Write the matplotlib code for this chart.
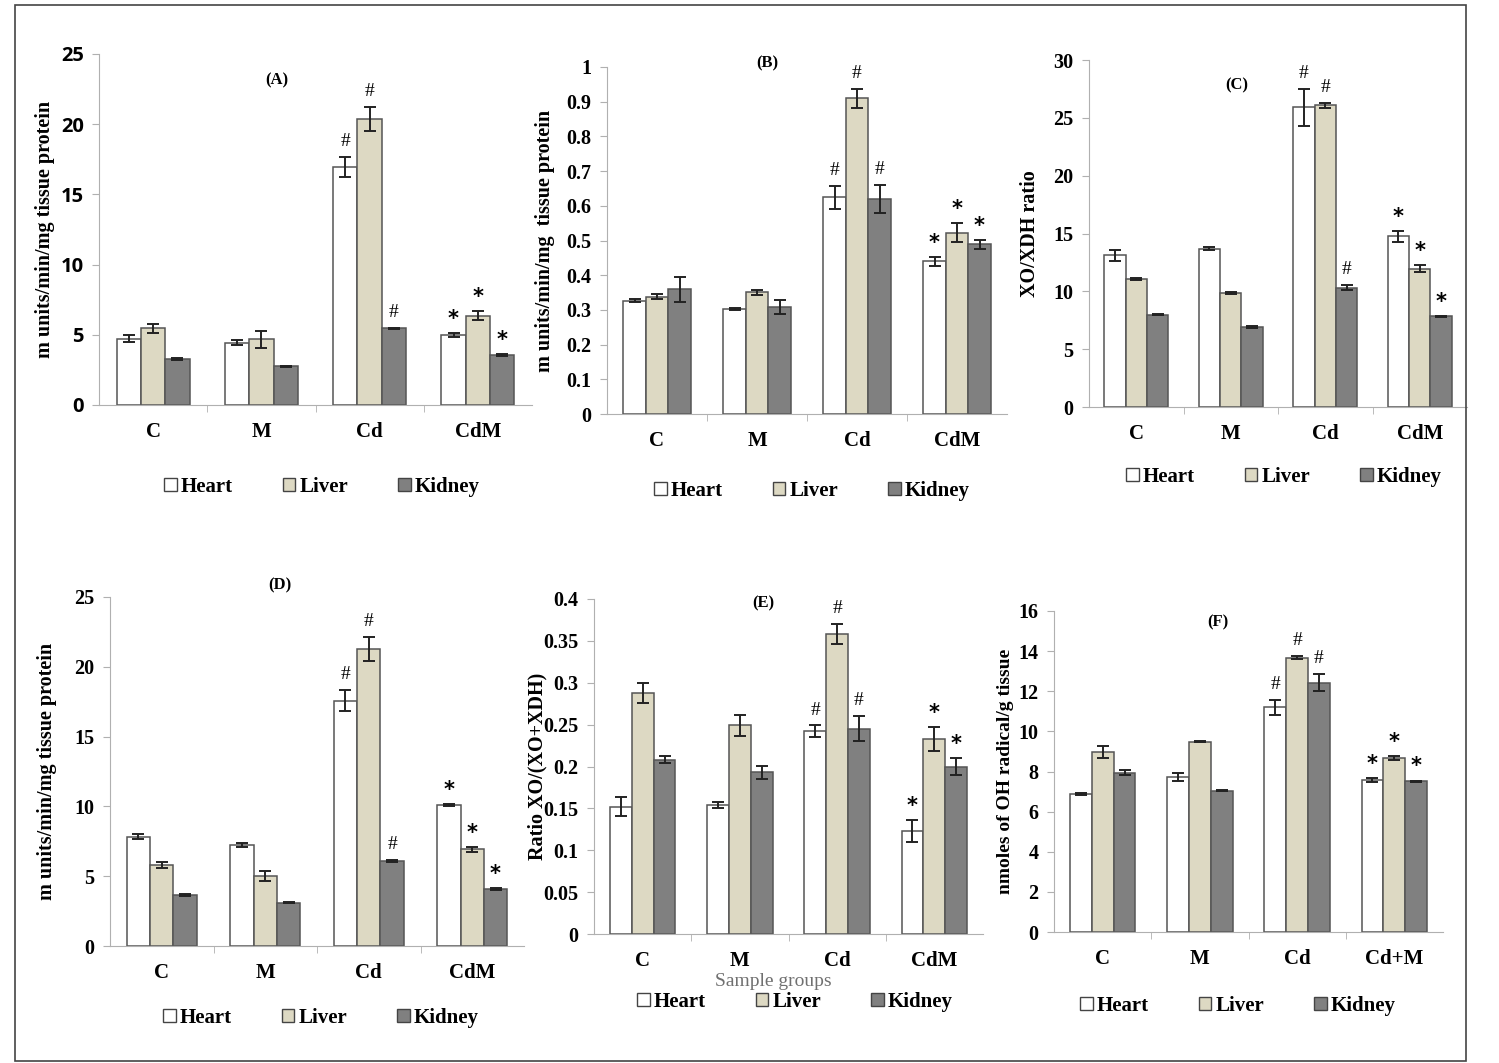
import matplotlib
matplotlib.use("Agg")
import matplotlib.pyplot as plt
import numpy as np
from matplotlib.patches import Patch, Rectangle

W, H = 1499, 1063
SERIF = ["Liberation Serif", "DejaVu Serif"]

tissues = ["Heart", "Liver", "Kidney"]
colors = ["#ffffff", "#ddd9c3", "#808080"]
groups = ["C", "M", "Cd", "CdM"]
groups_f = ["C", "M", "Cd", "Cd+M"]

# (A) XO activity
a_vals = [[4.72, 4.45, 16.95, 5.0], [5.45, 4.68, 20.38, 6.37], [3.27, 2.77, 5.45, 3.57]]
a_err = [[0.25, 0.15, 0.7, 0.15], [0.35, 0.6, 0.85, 0.3], [0.08, 0.04, 0.05, 0.08]]
a_marks = [["", "", "#", "*"], ["", "", "#", "*"], ["", "", "#", "*"]]

# (B) XDH activity
b_vals = [[0.327, 0.303, 0.624, 0.440], [0.338, 0.351, 0.910, 0.523], [0.360, 0.308, 0.620, 0.489]]
b_err = [[0.003, 0.003, 0.033, 0.013], [0.008, 0.007, 0.027, 0.027], [0.036, 0.02, 0.04, 0.013]]
b_marks = [["", "", "#", "*"], ["", "", "#", "*"], ["", "", "#", "*"]]

# (C) XO/XDH ratio
c_vals = [[13.1, 13.7, 25.9, 14.75], [11.08, 9.86, 26.07, 11.95], [7.99, 6.9, 10.33, 7.83]]
c_err = [[0.5, 0.1, 1.6, 0.45], [0.1, 0.1, 0.2, 0.3], [0.03, 0.08, 0.25, 0.05]]
c_marks = [["", "", "#", "*"], ["", "", "#", "*"], ["", "", "#", "*"]]

# (D)
d_vals = [[7.84, 7.22, 17.57, 10.09], [5.81, 5.02, 21.27, 6.93], [3.66, 3.1, 6.07, 4.09]]
d_err = [[0.2, 0.15, 0.75, 0.08], [0.22, 0.33, 0.85, 0.18], [0.1, 0.03, 0.08, 0.08]]
d_marks = [["", "", "#", "*"], ["", "", "#", "*"], ["", "", "#", "*"]]

# (E) XO/(XO+XDH)
e_vals = [[0.152, 0.154, 0.242, 0.123], [0.288, 0.249, 0.358, 0.233], [0.208, 0.193, 0.245, 0.200]]
e_err = [[0.011, 0.004, 0.007, 0.013], [0.012, 0.013, 0.012, 0.014], [0.004, 0.008, 0.015, 0.01]]
e_marks = [["", "", "#", "*"], ["", "", "#", "*"], ["", "", "#", "*"]]

# (F) OH radical
f_vals = [[6.89, 7.73, 11.2, 7.57], [8.98, 9.49, 13.68, 8.65], [7.95, 7.05, 12.43, 7.52]]
f_err = [[0.05, 0.2, 0.38, 0.1], [0.3, 0.03, 0.08, 0.1], [0.12, 0.02, 0.42, 0.03]]
f_marks = [["", "", "#", "*"], ["", "", "#", "*"], ["", "", "#", "*"]]

panels = [
    # name, vals, err, marks, cats, ymax, ystep, ylabel, box(left,right,bottom,top px), title pos, legend (cx, cy), ylabel x
    ("(A)", a_vals, a_err, a_marks, groups, 25, 5, "m units/min/mg tissue protein",
     (99, 532, 405, 54), (0.41, 0.926), (322, 487), 45),
    ("(B)", b_vals, b_err, b_marks, groups, 1, 0.1, "m units/min/mg  tissue protein",
     (607, 1007, 414, 67), (0.40, 1.01), (812, 491), 545),
    ("(C)", c_vals, c_err, c_marks, groups, 30, 5, "XO/XDH ratio",
     (1089, 1467, 407, 60), (0.39, 0.928), (1284, 477), 1030),
    ("(D)", d_vals, d_err, d_marks, groups, 25, 5, "m units/min/mg tissue protein",
     (110, 524, 946, 597), (0.41, 1.034), (321, 1018), 47),
    ("(E)", e_vals, e_err, e_marks, groups, 0.4, 0.05, "Ratio XO/(XO+XDH)",
     (594, 983, 934, 599), (0.434, 0.988), (795, 1002), 537),
    ("(F)", f_vals, f_err, f_marks, groups_f, 16, 2, "nmoles of OH radical/g tissue",
     (1054, 1443, 932, 611), (0.42, 0.963), (1238, 1006), 1005),
]

fig = plt.figure(figsize=(W / 100, H / 100), dpi=100)
fig.patches.append(Rectangle((15 / W, 1 - 1061 / H), (1466 - 15) / W, (1061 - 5) / H,
                             transform=fig.transFigure, fill=False, edgecolor="#444444", lw=1.2))

bw = 0.225
for name, vals, err, marks, cats, ymax, ystep, ylabel, box, tpos, lpos, ylx in panels:
    l, r, b, t = box
    ax = fig.add_axes([l / W, 1 - b / H, (r - l) / W, (b - t) / H])
    x = np.arange(len(cats))
    for i in range(3):
        xs = x + (i - 1) * bw
        ax.bar(xs, vals[i], bw, color=colors[i], edgecolor="#555555", linewidth=1.1, zorder=2)
        ax.errorbar(xs, vals[i], yerr=err[i], fmt="none", ecolor="#222222", elinewidth=1.4,
                    capsize=4, capthick=1.4, zorder=3)
        for j, m in enumerate(marks[i]):
            if not m:
                continue
            top = vals[i][j] + err[i][j]
            if m == "#":
                ax.annotate(m, (xs[j], top), xytext=(0, 5), textcoords="offset points",
                            ha="center", va="bottom", fontsize=14, family=SERIF)
            else:
                ax.annotate(m, (xs[j], top), xytext=(0, 3), textcoords="offset points",
                            ha="center", va="bottom", fontsize=15, fontweight="bold",
                            family="DejaVu Sans")
    ax.set_xlim(-0.5, len(cats) - 0.5)
    ax.set_ylim(0, ymax)
    ticks = np.round(np.arange(0, ymax + ystep / 2, ystep), 3)
    ax.set_yticks(ticks)
    ax.set_yticklabels(["%g" % v for v in ticks])
    ax.set_xticks(x)
    ax.set_xticklabels(cats)
    ax.set_xticks(np.arange(0.5, len(cats) - 0.5), minor=True)
    ax.tick_params(axis="x", which="major", length=0, pad=12)
    ax.tick_params(axis="x", which="minor", length=5, color="#b0b0b0")
    ax.tick_params(axis="y", length=5, color="#b0b0b0", pad=6)
    for lab in ax.get_xticklabels():
        lab.set_fontfamily(SERIF)
        lab.set_fontweight("bold")
        lab.set_fontsize(15)
    for lab in ax.get_yticklabels():
        if name == "(A)":
            lab.set_fontfamily(["Open Sans", "DejaVu Sans"])
        else:
            lab.set_fontfamily(SERIF)
        lab.set_fontweight("bold")
        lab.set_fontsize(14.5)
    for s in ["top", "right"]:
        ax.spines[s].set_visible(False)
    ax.spines["left"].set_color("#b0b0b0")
    ax.spines["bottom"].set_color("#b0b0b0")
    ax.text(tpos[0], tpos[1], name, transform=ax.transAxes, ha="center", va="center",
            fontsize=12, fontweight="bold", family=SERIF)
    fig.text(ylx / W, 1 - ((b + t) / 2) / H, ylabel, rotation=90, ha="center", va="center",
             fontsize=14 if name == "(F)" else 14.5, fontweight="bold", family=SERIF)
    handles = [Patch(facecolor=colors[i], edgecolor="#444444", label=tissues[i]) for i in range(3)]
    fig.legend(handles=handles, loc="center", bbox_to_anchor=(lpos[0] / W, 1 - lpos[1] / H),
               ncol=3, frameon=False, handlelength=0.6, handleheight=0.6, handletextpad=0.2,
               columnspacing=2.4, prop={"family": SERIF, "weight": "bold", "size": 15})

fig.text(773 / W, 1 - 982 / H, "Sample groups", ha="center", va="center", fontsize=14,
         color="#707070", family=SERIF)

fig.savefig("out.png", dpi=100)
